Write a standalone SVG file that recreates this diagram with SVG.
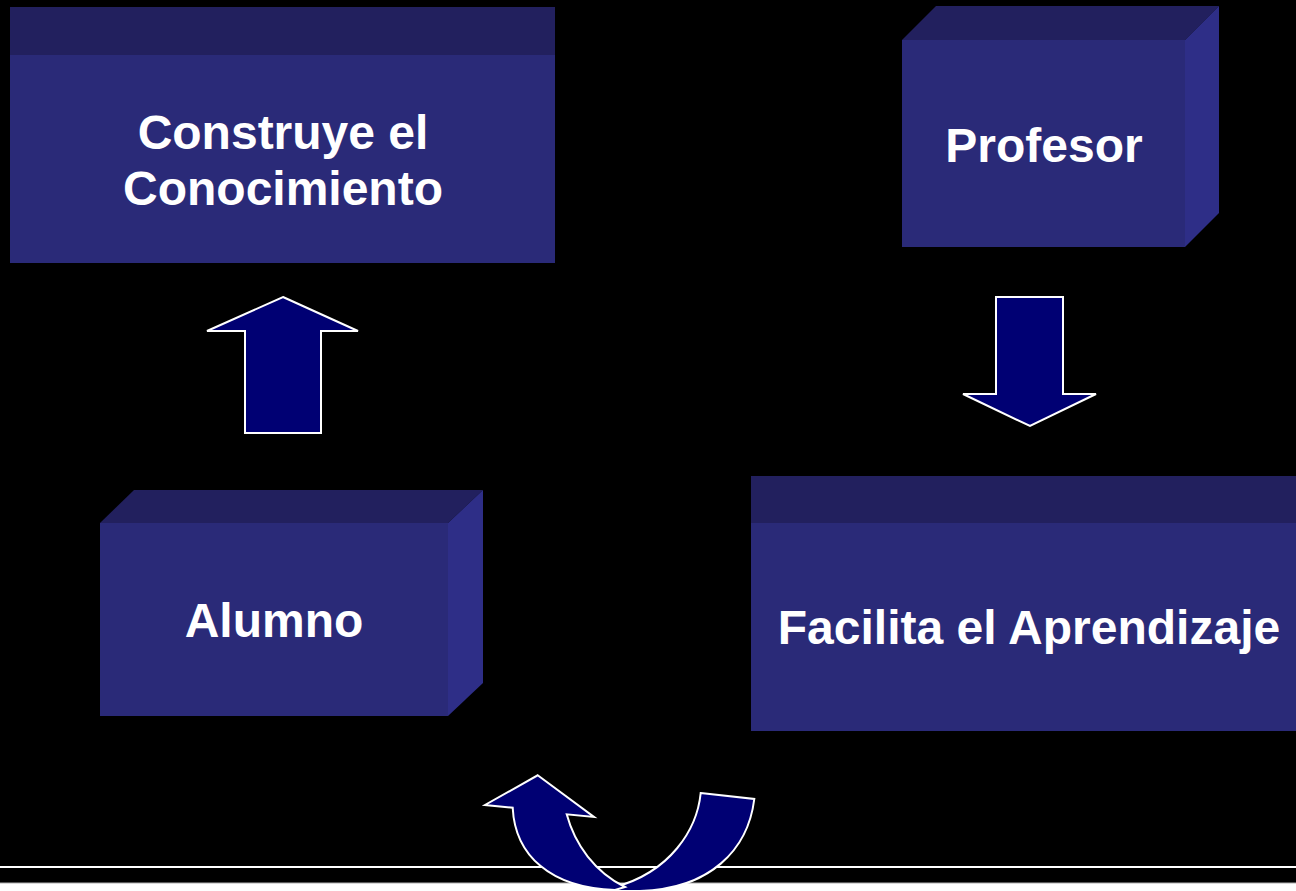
<svg xmlns="http://www.w3.org/2000/svg" width="1296" height="891" viewBox="0 0 1296 891">
<style>
.front{fill:#2a2a78}
.top{fill:#22205e}
.side{fill:#2e2e87}
.lbl{font-family:"Liberation Sans",Arial,sans-serif;font-weight:bold;font-size:48px;fill:#ffffff;text-anchor:middle}
.arr{fill:#000073;stroke:#ffffff;stroke-width:2;stroke-linejoin:miter}
</style>
<rect x="0" y="0" width="1296" height="891" fill="#000000"/>
<g id="bottom-lines">
<line x1="0" y1="867" x2="1296" y2="867" stroke="#ffffff" stroke-width="2"/>
<rect x="0" y="883" width="1296" height="8" fill="#ffffff"/>
<line x1="0" y1="883" x2="1296" y2="883" stroke="#b0b0b0" stroke-width="1"/>
</g>
<g id="node-construye">
<rect class="top" x="10" y="7" width="545" height="48"/>
<rect class="front" x="10" y="55" width="545" height="208"/>
<text class="lbl" x="283" y="149">Construye el</text>
<text class="lbl" x="283" y="205">Conocimiento</text>
</g>
<g id="node-profesor">
<polygon class="top" points="902,40 936,6 1219,6 1185,40"/>
<polygon class="side" points="1185,40 1219,6 1219,213 1185,247"/>
<rect class="front" x="902" y="40" width="283" height="207"/>
<text class="lbl" x="1044" y="162">Profesor</text>
</g>
<g id="node-alumno">
<polygon class="top" points="100,523 134,490 483,490 448,523"/>
<polygon class="side" points="448,523 483,490 483,683 448,716"/>
<rect class="front" x="100" y="523" width="348" height="193"/>
<text class="lbl" x="274" y="637">Alumno</text>
</g>
<g id="node-facilita">
<rect class="top" x="751" y="476" width="560" height="47"/>
<rect class="front" x="751" y="523" width="560" height="208"/>
<text class="lbl" x="1029" y="644">Facilita el Aprendizaje</text>
</g>
<g id="connectors">
<polygon class="arr" points="283,297 358,331 321,331 321,433 245,433 245,331 207,331"/>
<polygon class="arr" points="996,297 1063,297 1063,394 1096,394 1030,426 963,394 996,394"/>
<path class="arr" d="M700.7,793 L754.3,799 C748,850 710,889 640,891 L610,891 L615,887 C670,872 697,830 700.7,793 Z"/>
<path class="arr" d="M537.7,775.3 L594,817 L566.7,814.3 C575,845 595,872 625,887 L615,890 C550,888 515,855 512.7,807.7 L485,805 Z"/>
</g>
</svg>
